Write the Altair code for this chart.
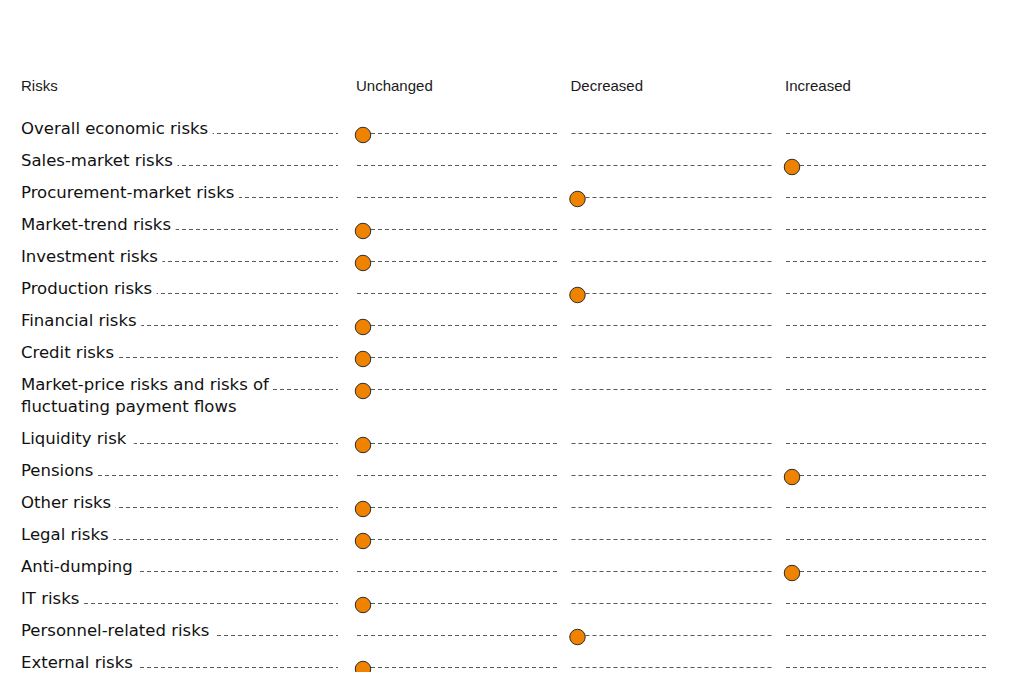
import altair as alt
import pandas as pd

# ---- data ----
risks = [
    "Overall economic risks",
    "Sales-market risks",
    "Procurement-market risks",
    "Market-trend risks",
    "Investment risks",
    "Production risks",
    "Financial risks",
    "Credit risks",
    "Market-price risks and risks of\nfluctuating payment flows",
    "Liquidity risk",
    "Pensions",
    "Other risks",
    "Legal risks",
    "Anti-dumping",
    "IT risks",
    "Personnel-related risks",
    "External risks",
]
status = [
    "Unchanged", "Increased", "Decreased", "Unchanged", "Unchanged",
    "Decreased", "Unchanged", "Unchanged", "Unchanged", "Unchanged",
    "Increased", "Unchanged", "Unchanged", "Increased", "Unchanged",
    "Decreased", "Unchanged",
]
columns = ["Unchanged", "Decreased", "Increased"]
first_header = "Risks"

# ---- layout derived from the labels (row height grows with extra lines) ----
ROW_H = 32
LINE_H = 22
ypos, acc = [], 0
for r in risks:
    ypos.append(acc)
    acc += ROW_H + LINE_H * (len(r.split("\n")) - 1)
last = ypos[-1]

rows = pd.DataFrame({
    "risk": risks,
    "status": status,
    "ypos": ypos,
    "col": [columns.index(s) for s in status],
})
cols = pd.DataFrame({"column": columns, "col": list(range(len(columns)))})
grid = rows[["risk", "ypos"]].merge(cols, how="cross")
grid["col_end"] = grid["col"] + 0.94
heads = cols.copy()

FONT_LBL = "DejaVu Sans"
FONT_HDR = "Liberation Sans"
GRAY = "#5a5a5a"
ORANGE = "#EF8300"

yscale = alt.Scale(domain=[0, last], range=[125.5, 125.5 + last])
xscale = alt.Scale(domain=[0, 2], range=[349, 778])

Y = alt.Y("ypos:Q", scale=yscale, axis=None)

leaders = alt.Chart(rows).mark_rule(
    color=GRAY, strokeDash=[4, 3], strokeWidth=1.1
).encode(x=alt.value(13), x2=alt.value(330), y=Y)

col_rules = alt.Chart(grid).mark_rule(
    color=GRAY, strokeDash=[4, 3], strokeWidth=1.1
).encode(
    x=alt.X("col:Q", scale=xscale, axis=None),
    x2="col_end:Q",
    y=Y,
)

halo = alt.Chart(rows).mark_text(
    align="left", baseline="alphabetic", font=FONT_LBL, fontSize=16.5,
    lineBreak="\n", lineHeight=LINE_H, dy=0.5,
    fill="white", stroke="white", strokeWidth=11,
).encode(x=alt.value(13), y=Y, text="risk:N")

labels = alt.Chart(rows).mark_text(
    align="left", baseline="alphabetic", font=FONT_LBL, fontSize=16.5,
    lineBreak="\n", lineHeight=LINE_H, dy=0.5, color="#111111",
).encode(x=alt.value(13), y=Y, text="risk:N")

dots = alt.Chart(rows).mark_point(
    shape="circle", filled=True, size=240, fill=ORANGE, opacity=1,
    stroke="#2e2e2e", strokeWidth=1, xOffset=6, yOffset=1.5,
).encode(x=alt.X("col:Q", scale=xscale, axis=None), y=Y)

head_cols = alt.Chart(heads).mark_text(
    align="left", baseline="alphabetic", font=FONT_HDR, fontSize=15,
    color="#1a1a1a", dx=-1,
).encode(
    x=alt.X("col:Q", scale=xscale, axis=None),
    y=alt.value(83),
    text="column:N",
)

head_first = alt.Chart(pd.DataFrame({"h": [first_header]})).mark_text(
    align="left", baseline="alphabetic", font=FONT_HDR, fontSize=15,
    color="#1a1a1a",
).encode(x=alt.value(13), y=alt.value(83), text="h:N")

chart = alt.layer(
    leaders, col_rules, halo, labels, dots, head_cols, head_first
).properties(
    width=993, height=664,
    autosize=alt.AutoSizeParams(type="none"),
    padding=0,
).configure_view(stroke=None)

chart.save("out.html", embed_options={"renderer": "svg", "actions": False})
